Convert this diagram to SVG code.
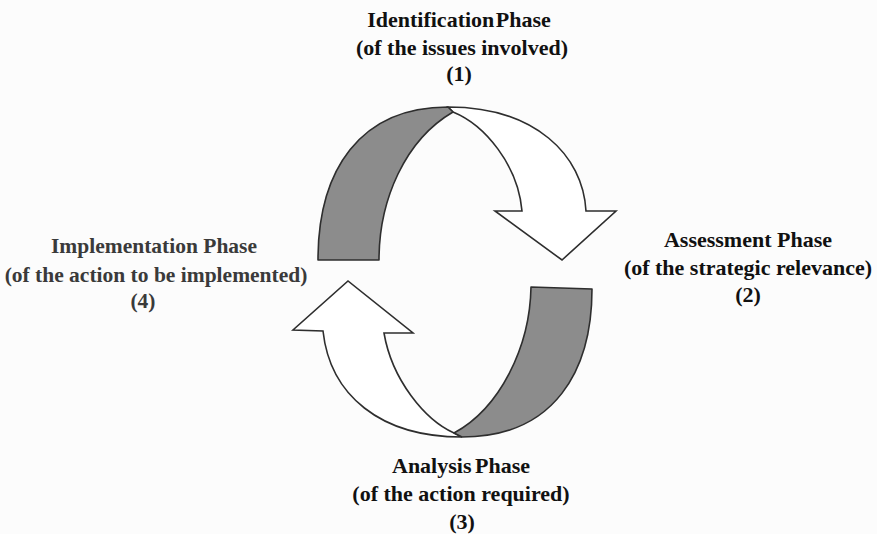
<svg xmlns="http://www.w3.org/2000/svg" width="877" height="534" viewBox="0 0 877 534">
  <defs>
    <style>
      .lbl { font-family: "Liberation Serif", "Times New Roman", serif; font-weight: bold; font-size: 22px; fill: #111; text-anchor: middle; }
      .lbl-soft { font-family: "Liberation Serif", "Times New Roman", serif; font-weight: bold; font-size: 21.5px; fill: #3a3a3a; text-anchor: middle; }
      .band { fill: #8c8c8c; stroke: #2e2e2e; stroke-width: 1.6; stroke-linejoin: round; }
      .arrow { fill: #ffffff; stroke: #2e2e2e; stroke-width: 1.6; stroke-linejoin: miter; }
    </style>
  </defs>

  <rect width="877" height="534" fill="#fcfcfc"/>

  <!-- cycle arrows -->
  <g id="connectors">
    <!-- upper arrow: from phase 1 over to phase 2 -->
    <g id="arrow-top">
      <path class="arrow" d="M453,112 C485,125 518,165 522,211 L495,211 L562,260 L616,211 L586,211 C583,155 535,107 448,107 Z"/>
      <path class="band" d="M318,260 C318,170 360,107 448,107 L453,112 C405,140 379,200 379,260 Z"/>
    </g>
    <!-- lower arrow: from phase 3 back up to phase 4 -->
    <g id="arrow-bottom">
      <path class="arrow" d="M454,433 C425,420 392,380 384,333 L413,333 L348,281 L293,330 L323,331 C330,395 380,437 462,437 Z"/>
      <path class="band" d="M592,289 C592,370 555,437 462,437 L454,433 C500,408 530,347 531,287 Z"/>
    </g>
  </g>

  <g id="phase-1">
    <text class="lbl" x="459" y="27" word-spacing="-4">Identification Phase</text>
    <text class="lbl" x="462" y="55">(of the issues involved)</text>
    <text class="lbl" x="459" y="81">(1)</text>
  </g>

  <g id="phase-2">
    <text class="lbl" x="748" y="247">Assessment Phase</text>
    <text class="lbl" x="748" y="275">(of the strategic relevance)</text>
    <text class="lbl" x="748" y="302">(2)</text>
  </g>

  <g id="phase-3">
    <text class="lbl" x="461" y="473" word-spacing="-2">Analysis Phase</text>
    <text class="lbl" x="461" y="501">(of the action required)</text>
    <text class="lbl" x="462" y="529">(3)</text>
  </g>

  <g id="phase-4">
    <text class="lbl-soft" x="154" y="253">Implementation Phase</text>
    <text class="lbl-soft" x="156" y="282">(of the action to be implemented)</text>
    <text class="lbl-soft" x="143" y="308">(4)</text>
  </g>
</svg>
